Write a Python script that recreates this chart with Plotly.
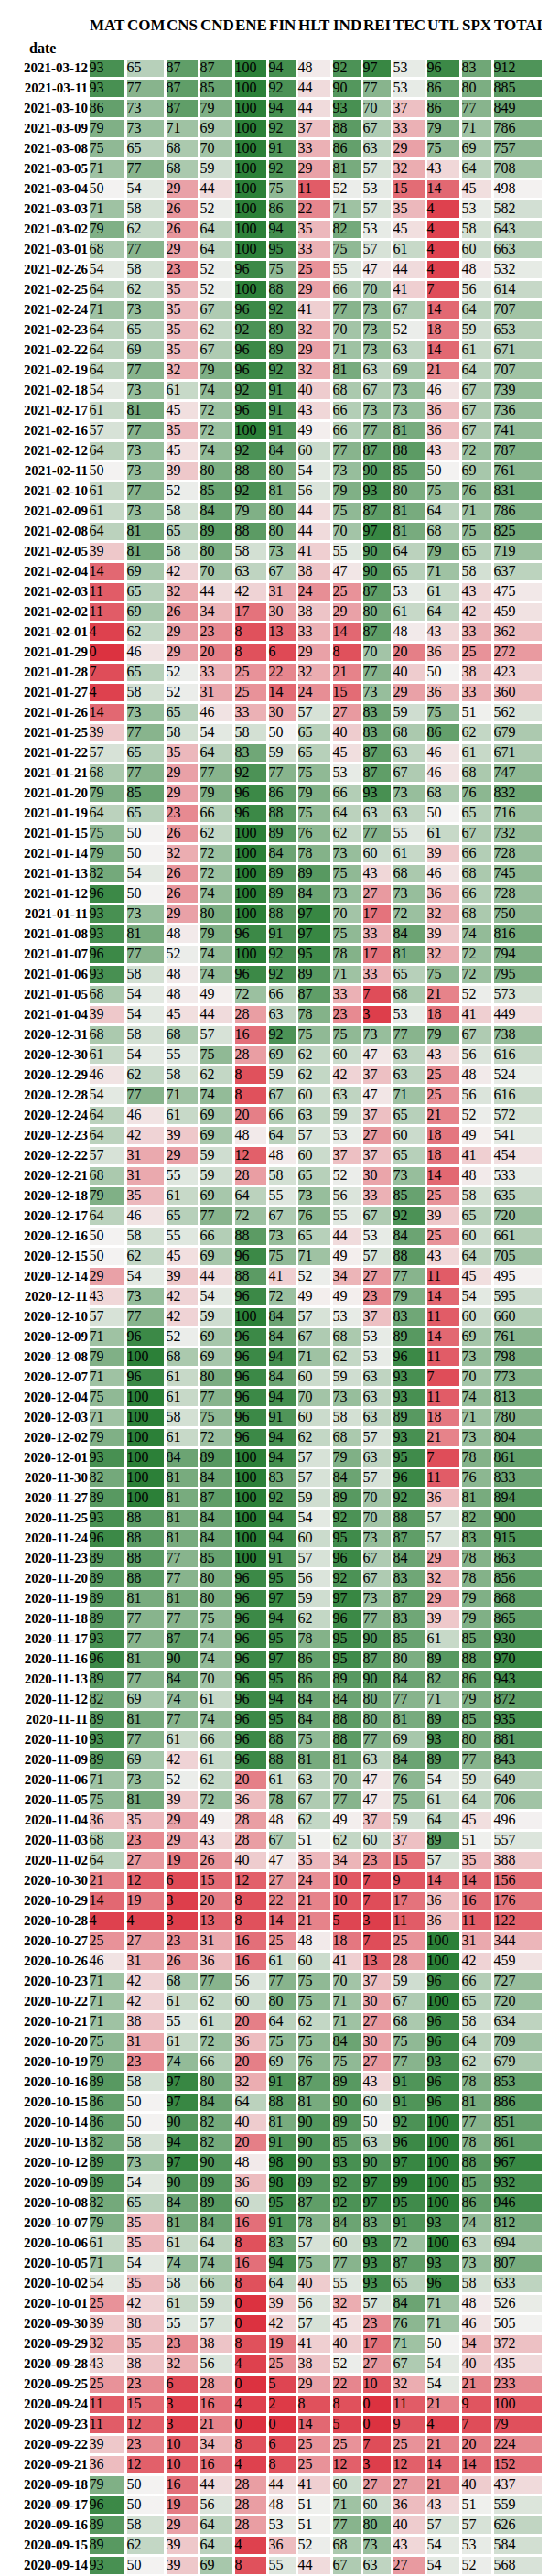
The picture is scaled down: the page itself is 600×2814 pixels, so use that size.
import plotly.graph_objects as go

COLUMNS = ["MAT", "COM", "CNS", "CND", "ENE", "FIN", "HLT", "IND", "REI", "TEC", "UTL", "SPX", "TOTAL"]

DATES = [
    "2021-03-12", "2021-03-11", "2021-03-10", "2021-03-09", "2021-03-08", "2021-03-05", "2021-03-04",
    "2021-03-03", "2021-03-02", "2021-03-01", "2021-02-26", "2021-02-25", "2021-02-24", "2021-02-23",
    "2021-02-22", "2021-02-19", "2021-02-18", "2021-02-17", "2021-02-16", "2021-02-12", "2021-02-11",
    "2021-02-10", "2021-02-09", "2021-02-08", "2021-02-05", "2021-02-04", "2021-02-03", "2021-02-02",
    "2021-02-01", "2021-01-29", "2021-01-28", "2021-01-27", "2021-01-26", "2021-01-25", "2021-01-22",
    "2021-01-21", "2021-01-20", "2021-01-19", "2021-01-15", "2021-01-14", "2021-01-13", "2021-01-12",
    "2021-01-11", "2021-01-08", "2021-01-07", "2021-01-06", "2021-01-05", "2021-01-04", "2020-12-31",
    "2020-12-30", "2020-12-29", "2020-12-28", "2020-12-24", "2020-12-23", "2020-12-22", "2020-12-21",
    "2020-12-18", "2020-12-17", "2020-12-16", "2020-12-15", "2020-12-14", "2020-12-11", "2020-12-10",
    "2020-12-09", "2020-12-08", "2020-12-07", "2020-12-04", "2020-12-03", "2020-12-02", "2020-12-01",
    "2020-11-30", "2020-11-27", "2020-11-25", "2020-11-24", "2020-11-23", "2020-11-20", "2020-11-19",
    "2020-11-18", "2020-11-17", "2020-11-16", "2020-11-13", "2020-11-12", "2020-11-11", "2020-11-10",
    "2020-11-09", "2020-11-06", "2020-11-05", "2020-11-04", "2020-11-03", "2020-11-02", "2020-10-30",
    "2020-10-29", "2020-10-28", "2020-10-27", "2020-10-26", "2020-10-23", "2020-10-22", "2020-10-21",
    "2020-10-20", "2020-10-19", "2020-10-16", "2020-10-15", "2020-10-14", "2020-10-13", "2020-10-12",
    "2020-10-09", "2020-10-08", "2020-10-07", "2020-10-06", "2020-10-05", "2020-10-02", "2020-10-01",
    "2020-09-30", "2020-09-29", "2020-09-28", "2020-09-25", "2020-09-24", "2020-09-23", "2020-09-22",
    "2020-09-21", "2020-09-18", "2020-09-17", "2020-09-16", "2020-09-15", "2020-09-14",
]

# one row per date: MAT COM CNS CND ENE FIN HLT IND REI TEC UTL SPX TOTAL
ROWS = [
    [93, 65, 87, 87, 100, 94, 48, 92, 97, 53, 96, 83, 912],
    [93, 77, 87, 85, 100, 92, 44, 90, 77, 53, 86, 80, 885],
    [86, 73, 87, 79, 100, 94, 44, 93, 70, 37, 86, 77, 849],
    [79, 73, 71, 69, 100, 92, 37, 88, 67, 33, 79, 71, 786],
    [75, 65, 68, 70, 100, 91, 33, 86, 63, 29, 75, 69, 757],
    [71, 77, 68, 59, 100, 92, 29, 81, 57, 32, 43, 64, 708],
    [50, 54, 29, 44, 100, 75, 11, 52, 53, 15, 14, 45, 498],
    [71, 58, 26, 52, 100, 86, 22, 71, 57, 35, 4, 53, 582],
    [79, 62, 26, 64, 100, 94, 35, 82, 53, 45, 4, 58, 643],
    [68, 77, 29, 64, 100, 95, 33, 75, 57, 61, 4, 60, 663],
    [54, 58, 23, 52, 96, 75, 25, 55, 47, 44, 4, 48, 532],
    [64, 62, 35, 52, 100, 88, 29, 66, 70, 41, 7, 56, 614],
    [71, 73, 35, 67, 96, 92, 41, 77, 73, 67, 14, 64, 707],
    [64, 65, 35, 62, 92, 89, 32, 70, 73, 52, 18, 59, 653],
    [64, 69, 35, 67, 96, 89, 29, 71, 73, 63, 14, 61, 671],
    [64, 77, 32, 79, 96, 92, 32, 81, 63, 69, 21, 64, 707],
    [54, 73, 61, 74, 92, 91, 40, 68, 67, 73, 46, 67, 739],
    [61, 81, 45, 72, 96, 91, 43, 66, 73, 73, 36, 67, 736],
    [57, 77, 35, 72, 100, 91, 49, 66, 77, 81, 36, 67, 741],
    [64, 73, 45, 74, 92, 84, 60, 77, 87, 88, 43, 72, 787],
    [50, 73, 39, 80, 88, 80, 54, 73, 90, 85, 50, 69, 761],
    [61, 77, 52, 85, 92, 81, 56, 79, 93, 80, 75, 76, 831],
    [61, 73, 58, 84, 79, 80, 44, 75, 87, 81, 64, 71, 786],
    [64, 81, 65, 89, 88, 80, 44, 70, 97, 81, 68, 75, 825],
    [39, 81, 58, 80, 58, 73, 41, 55, 90, 64, 79, 65, 719],
    [14, 69, 42, 70, 63, 67, 38, 47, 90, 65, 71, 58, 637],
    [11, 65, 32, 44, 42, 31, 24, 25, 87, 53, 61, 43, 475],
    [11, 69, 26, 34, 17, 30, 38, 29, 80, 61, 64, 42, 459],
    [4, 62, 29, 23, 8, 13, 33, 14, 87, 48, 43, 33, 362],
    [0, 46, 29, 20, 8, 6, 29, 8, 70, 20, 36, 25, 272],
    [7, 65, 52, 33, 25, 22, 32, 21, 77, 40, 50, 38, 423],
    [4, 58, 52, 31, 25, 14, 24, 15, 73, 29, 36, 33, 360],
    [14, 73, 65, 46, 33, 30, 57, 27, 83, 59, 75, 51, 562],
    [39, 77, 58, 54, 58, 50, 65, 40, 83, 68, 86, 62, 679],
    [57, 65, 35, 64, 83, 59, 65, 45, 87, 63, 46, 61, 671],
    [68, 77, 29, 77, 92, 77, 75, 53, 87, 67, 46, 68, 747],
    [79, 85, 29, 79, 96, 86, 79, 66, 93, 73, 68, 76, 832],
    [64, 65, 23, 66, 96, 88, 75, 64, 63, 63, 50, 65, 716],
    [75, 50, 26, 62, 100, 89, 76, 62, 77, 55, 61, 67, 732],
    [79, 50, 32, 72, 100, 84, 78, 73, 60, 61, 39, 66, 728],
    [82, 54, 26, 72, 100, 89, 89, 75, 43, 68, 46, 68, 745],
    [96, 50, 26, 74, 100, 89, 84, 73, 27, 73, 36, 66, 728],
    [93, 73, 29, 80, 100, 88, 97, 70, 17, 72, 32, 68, 750],
    [93, 81, 48, 79, 96, 91, 97, 75, 33, 84, 39, 74, 816],
    [96, 77, 52, 74, 100, 92, 95, 78, 17, 81, 32, 72, 794],
    [93, 58, 48, 74, 96, 92, 89, 71, 33, 65, 75, 72, 795],
    [68, 54, 48, 49, 72, 66, 87, 33, 7, 68, 21, 52, 573],
    [39, 54, 45, 44, 28, 63, 78, 23, 3, 53, 18, 41, 449],
    [68, 58, 68, 57, 16, 92, 75, 75, 73, 77, 79, 67, 738],
    [61, 54, 55, 75, 28, 69, 62, 60, 47, 63, 43, 56, 616],
    [46, 62, 58, 62, 8, 59, 62, 42, 37, 63, 25, 48, 524],
    [54, 77, 71, 74, 8, 67, 60, 63, 47, 71, 25, 56, 616],
    [64, 46, 61, 69, 20, 66, 63, 59, 37, 65, 21, 52, 572],
    [64, 42, 39, 69, 48, 64, 57, 53, 27, 60, 18, 49, 541],
    [57, 31, 29, 59, 12, 48, 60, 37, 37, 65, 18, 41, 454],
    [68, 31, 55, 59, 28, 58, 65, 52, 30, 73, 14, 48, 533],
    [79, 35, 61, 69, 64, 55, 73, 56, 33, 85, 25, 58, 635],
    [64, 46, 65, 77, 72, 67, 76, 55, 67, 92, 39, 65, 720],
    [50, 58, 55, 66, 88, 73, 65, 44, 53, 84, 25, 60, 661],
    [50, 62, 45, 69, 96, 75, 71, 49, 57, 88, 43, 64, 705],
    [29, 54, 39, 44, 88, 41, 52, 34, 27, 77, 11, 45, 495],
    [43, 73, 42, 54, 96, 72, 49, 49, 23, 79, 14, 54, 595],
    [57, 77, 42, 59, 100, 84, 57, 53, 37, 83, 11, 60, 660],
    [71, 96, 52, 69, 96, 84, 67, 68, 53, 89, 14, 69, 761],
    [79, 100, 68, 69, 96, 94, 71, 62, 53, 96, 11, 73, 798],
    [71, 96, 61, 80, 96, 84, 60, 59, 63, 93, 7, 70, 773],
    [75, 100, 61, 77, 96, 94, 70, 73, 63, 93, 11, 74, 813],
    [71, 100, 58, 75, 96, 91, 60, 58, 63, 89, 18, 71, 780],
    [79, 100, 61, 72, 96, 94, 62, 68, 57, 93, 21, 73, 804],
    [93, 100, 84, 89, 100, 94, 57, 79, 63, 95, 7, 78, 861],
    [82, 100, 81, 84, 100, 83, 57, 84, 57, 96, 11, 76, 833],
    [89, 100, 81, 87, 100, 92, 59, 89, 70, 92, 36, 81, 894],
    [93, 88, 81, 84, 100, 94, 54, 92, 70, 88, 57, 82, 900],
    [96, 88, 81, 84, 100, 94, 60, 95, 73, 87, 57, 83, 915],
    [89, 88, 77, 85, 100, 91, 57, 96, 67, 84, 29, 78, 863],
    [89, 88, 77, 80, 96, 95, 56, 92, 67, 83, 32, 78, 856],
    [89, 81, 81, 80, 96, 97, 59, 97, 73, 87, 29, 79, 868],
    [89, 77, 77, 75, 96, 94, 62, 96, 77, 83, 39, 79, 865],
    [93, 77, 87, 74, 96, 95, 78, 95, 90, 85, 61, 85, 930],
    [96, 81, 90, 74, 96, 97, 86, 95, 87, 80, 89, 88, 970],
    [89, 77, 84, 70, 96, 95, 86, 89, 90, 84, 82, 86, 943],
    [82, 69, 74, 61, 96, 94, 84, 84, 80, 77, 71, 79, 872],
    [89, 81, 77, 74, 96, 95, 84, 88, 80, 81, 89, 85, 935],
    [93, 77, 61, 66, 96, 88, 75, 88, 77, 69, 93, 80, 881],
    [89, 69, 42, 61, 96, 88, 81, 81, 63, 84, 89, 77, 843],
    [71, 73, 52, 62, 20, 61, 63, 70, 47, 76, 54, 59, 649],
    [75, 81, 39, 72, 36, 78, 67, 77, 47, 75, 61, 64, 706],
    [36, 35, 29, 49, 28, 48, 62, 49, 37, 59, 64, 45, 496],
    [68, 23, 29, 43, 28, 67, 51, 62, 60, 37, 89, 51, 557],
    [64, 27, 19, 26, 40, 47, 35, 34, 23, 15, 57, 35, 388],
    [21, 12, 6, 15, 12, 27, 24, 10, 7, 9, 14, 14, 156],
    [14, 19, 3, 20, 8, 22, 21, 10, 7, 17, 36, 16, 176],
    [4, 4, 3, 13, 8, 14, 21, 5, 3, 11, 36, 11, 122],
    [25, 27, 23, 31, 16, 25, 48, 18, 7, 25, 100, 31, 344],
    [46, 31, 26, 36, 16, 61, 60, 41, 13, 28, 100, 42, 459],
    [71, 42, 68, 77, 56, 77, 75, 70, 37, 59, 96, 66, 727],
    [71, 42, 61, 62, 60, 80, 75, 71, 30, 67, 100, 65, 720],
    [71, 38, 55, 61, 20, 64, 62, 71, 27, 68, 96, 58, 634],
    [75, 31, 61, 72, 36, 75, 75, 84, 30, 75, 96, 64, 709],
    [79, 23, 74, 66, 20, 69, 76, 75, 27, 77, 93, 62, 679],
    [89, 58, 97, 80, 32, 91, 87, 89, 43, 91, 96, 78, 853],
    [86, 50, 97, 84, 64, 88, 81, 90, 60, 91, 96, 81, 886],
    [86, 50, 90, 82, 40, 81, 90, 89, 50, 92, 100, 77, 851],
    [82, 58, 94, 82, 20, 91, 90, 85, 63, 96, 100, 78, 861],
    [89, 73, 97, 90, 48, 98, 90, 93, 90, 97, 100, 88, 967],
    [89, 54, 90, 89, 36, 98, 89, 92, 97, 99, 100, 85, 932],
    [82, 65, 84, 89, 60, 95, 87, 92, 97, 95, 100, 86, 946],
    [79, 35, 81, 84, 16, 91, 78, 84, 83, 91, 93, 74, 812],
    [61, 35, 61, 64, 8, 83, 57, 60, 93, 72, 100, 63, 694],
    [71, 54, 74, 74, 16, 94, 75, 77, 93, 87, 93, 73, 807],
    [54, 35, 58, 66, 8, 64, 40, 55, 93, 65, 96, 58, 633],
    [25, 42, 61, 59, 0, 39, 56, 32, 57, 84, 71, 48, 526],
    [39, 38, 55, 57, 0, 42, 57, 45, 23, 76, 71, 46, 505],
    [32, 35, 23, 38, 8, 19, 41, 40, 17, 71, 50, 34, 372],
    [43, 38, 32, 56, 4, 25, 38, 52, 27, 67, 54, 40, 435],
    [25, 23, 6, 28, 0, 5, 29, 22, 10, 32, 54, 21, 233],
    [11, 15, 3, 16, 4, 2, 8, 8, 0, 11, 21, 9, 100],
    [11, 12, 3, 21, 0, 0, 14, 5, 0, 9, 4, 7, 79],
    [39, 23, 10, 34, 8, 6, 25, 25, 7, 25, 21, 20, 224],
    [36, 12, 10, 16, 4, 8, 25, 12, 3, 12, 14, 14, 152],
    [79, 50, 16, 44, 28, 44, 41, 60, 27, 27, 21, 40, 437],
    [96, 50, 19, 56, 28, 48, 51, 71, 60, 36, 43, 51, 559],
    [89, 58, 29, 64, 28, 53, 51, 77, 80, 40, 57, 57, 626],
    [89, 62, 39, 64, 4, 36, 52, 68, 73, 43, 54, 53, 584],
    [93, 50, 39, 69, 8, 55, 44, 67, 63, 27, 54, 52, 568],
]

# layout constants (pixels)
W, H = 600, 2814
LABEL_W = 89
COL_W = [41, 43, 37, 38, 37, 32, 38, 33, 33, 37, 38, 35, 60]
TOP = 56
ROW_H = 22
FONT = "Liberation Serif"

edges = [LABEL_W]
for w in COL_W:
    edges.append(edges[-1] + w)

n = len(DATES)
# colour value: sector columns are 0-100, TOTAL is 0-1000
zc = [[v / 10 if j == len(COLUMNS) - 1 else v for j, v in enumerate(r)] for r in ROWS]

colorscale = [
    [0.0, "rgb(220,50,64)"],
    [0.5, "rgb(243,242,241)"],
    [1.0, "rgb(44,128,56)"],
]

fig = go.Figure()
fig.add_trace(go.Heatmap(
    z=zc, x=edges, y=list(range(n)),
    colorscale=colorscale, zmin=0, zmax=100, showscale=False,
    xgap=3, ygap=3, hoverinfo="skip",
))

# cell values, left aligned in each cell
tx, ty, tt = [], [], []
for i, r in enumerate(ROWS):
    for j, v in enumerate(r):
        tx.append(edges[j] + 0.5)
        ty.append(i)
        tt.append(str(v))
fig.add_trace(go.Scatter(
    x=tx, y=ty, text=tt, mode="text", textposition="middle right",
    textfont=dict(family=FONT, size=16, color="black"),
    hoverinfo="skip", showlegend=False,
))

# date labels
fig.add_trace(go.Scatter(
    x=[LABEL_W - 1] * n, y=list(range(n)), text=["<b>%s</b>" % d for d in DATES],
    mode="text", textposition="middle left",
    textfont=dict(family=FONT, size=15, color="black"),
    hoverinfo="skip", showlegend=False,
))

# header
y_top = -0.5 - TOP / ROW_H
fig.add_trace(go.Scatter(
    x=[edges[j] + 1 for j in range(len(COLUMNS))], y=[y_top + 21 / ROW_H] * len(COLUMNS),
    text=["<b>%s</b>" % c for c in COLUMNS], mode="text", textposition="middle right",
    textfont=dict(family=FONT, size=17, color="black"),
    hoverinfo="skip", showlegend=False,
))
fig.add_trace(go.Scatter(
    x=[24], y=[y_top + 46 / ROW_H], text=["<b>date</b>"], mode="text",
    textposition="middle right",
    textfont=dict(family=FONT, size=16, color="black"),
    hoverinfo="skip", showlegend=False,
))

fig.update_layout(
    width=W, height=H, margin=dict(l=0, r=0, t=0, b=0),
    paper_bgcolor="white", plot_bgcolor="white", showlegend=False,
)
fig.update_xaxes(range=[0, W], visible=False, fixedrange=True)
fig.update_yaxes(range=[(H - TOP) / ROW_H - 0.5, y_top], visible=False, fixedrange=True)

fig.write_html("out.html")
